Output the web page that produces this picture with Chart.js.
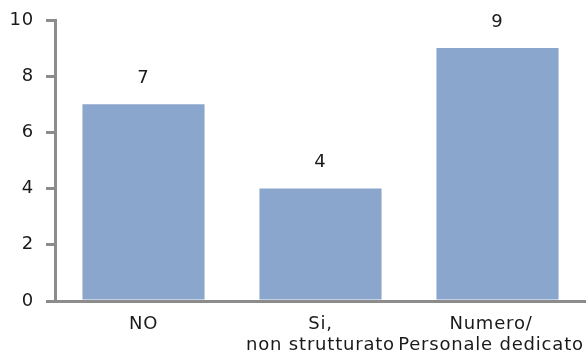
<!DOCTYPE html>
<html>
<head>
<meta charset="utf-8">
<script src="https://cdn.jsdelivr.net/npm/chart.js@4/dist/chart.umd.min.js"></script>
<style>
  html, body { margin: 0; padding: 0; background: #ffffff; }
  #wrap { width: 586px; height: 358px; position: relative; }
</style>
</head>
<body>
<div id="wrap"><canvas id="c" width="586" height="358"></canvas></div>
<script>
// Categories and counts
const categories = [["NO"], ["Si,", "non strutturato"], ["Numero/", "Personale dedicato"]];
const counts = [7, 4, 9];
const yTicks = [0, 2, 4, 6, 8, 10];

const AXIS_GREY = "#8c8c8c";
const BAR_BLUE = "rgb(139,166,204)";
const TEXT = "#1a1a1a";
const FONT_FAMILY = "'DejaVu Sans', Verdana, sans-serif";
const FONT_SIZE = 18;
const LETTER_SPACING = "0.8px";

// Slightly open letter spacing for all chart text
// (re-applied because resizing the canvas resets the context state)
const spacing = {
  id: "spacing",
  beforeLayout(chart) { chart.ctx.letterSpacing = LETTER_SPACING; },
  beforeDraw(chart) { chart.ctx.letterSpacing = LETTER_SPACING; }
};

// Writes each bar's value above it
const valueLabels = {
  id: "valueLabels",
  afterDatasetsDraw(chart) {
    const ctx = chart.ctx;
    const meta = chart.getDatasetMeta(0);
    ctx.save();
    ctx.letterSpacing = LETTER_SPACING;
    ctx.font = FONT_SIZE + "px " + FONT_FAMILY;
    ctx.fillStyle = TEXT;
    ctx.textAlign = "center";
    ctx.textBaseline = "middle";
    meta.data.forEach((bar, i) => {
      ctx.fillText(String(counts[i]), bar.x, bar.y - 26);
    });
    ctx.restore();
  }
};

new Chart(document.getElementById("c"), {
  type: "bar",
  data: {
    labels: categories,
    datasets: [{
      data: counts,
      backgroundColor: BAR_BLUE,
      borderWidth: 0,
      barPercentage: 0.69,
      categoryPercentage: 1.0
    }]
  },
  options: {
    responsive: false,
    animation: false,
    layout: { padding: { top: 20, right: 0, left: 0, bottom: 0 } },
    plugins: { legend: { display: false }, tooltip: { enabled: false } },
    scales: {
      x: {
        grid: { display: false, drawTicks: false },
        border: { display: true, color: AXIS_GREY, width: 3 },
        ticks: {
          color: TEXT,
          font: { family: FONT_FAMILY, size: FONT_SIZE, lineHeight: 1.17 },
          padding: 13,
          maxRotation: 0,
          autoSkip: false,
          // the last label is nudged left with trailing blanks so it stays inside the canvas
          callback(value, index, ticks) {
            const lines = categories[index];
            if (index === ticks.length - 1) return lines.map(s => s + "\u00A0\u00A0");
            return lines;
          }
        },
        afterFit(scale) {
          scale.height = 57;
          scale.paddingLeft = 0;
          scale.paddingRight = 0;
        }
      },
      y: {
        min: 0,
        max: 10,
        afterBuildTicks(scale) { scale.ticks = yTicks.map(v => ({ value: v })); },
        grid: {
          display: true,
          drawOnChartArea: false,
          drawTicks: true,
          tickLength: 9,
          color: AXIS_GREY,
          lineWidth: 3
        },
        border: { display: true, color: AXIS_GREY, width: 3 },
        ticks: {
          color: TEXT,
          font: { family: FONT_FAMILY, size: FONT_SIZE },
          padding: 12
        },
        afterFit(scale) {
          scale.width = 55;
          scale.paddingTop = 0;
          scale.paddingBottom = 0;
        }
      }
    }
  },
  plugins: [spacing, valueLabels]
});
</script>
</body>
</html>
